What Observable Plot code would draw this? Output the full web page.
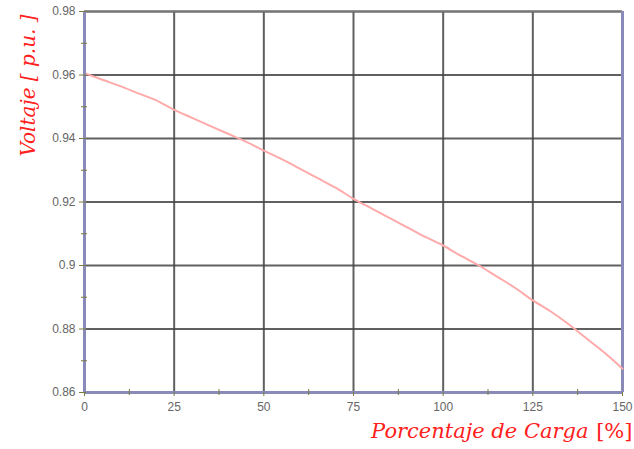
<!DOCTYPE html>
<html>
<head>
<meta charset="utf-8">
<script src="https://cdn.jsdelivr.net/npm/d3@7"></script>
<script src="https://cdn.jsdelivr.net/npm/@observablehq/plot@0.6"></script>
<style>
  html, body { margin: 0; padding: 0; background: #fff; }
  #chart svg { display: block; }
</style>
</head>
<body>
<div id="chart"></div>
<script>
const carga = [0, 5, 10, 15, 20, 25, 30, 35, 40, 45, 50, 55, 60, 65, 70, 75, 80, 85, 90, 95, 100, 105, 110, 115, 120, 125, 130, 135, 140, 145, 150];
const voltaje = [0.9606, 0.9585, 0.9565, 0.9542, 0.9520, 0.9490, 0.9465, 0.9440, 0.9415, 0.9390, 0.9362, 0.9335, 0.9305, 0.9275, 0.9245, 0.9210, 0.9180, 0.9150, 0.9120, 0.9090, 0.9063, 0.9030, 0.9000, 0.8965, 0.8930, 0.8890, 0.8855, 0.8815, 0.8770, 0.8725, 0.8675];
const xTicks = [0, 25, 50, 75, 100, 125, 150];
const xMinor = [12.5, 37.5, 62.5, 87.5, 112.5, 137.5];
const yTicks = [0.86, 0.88, 0.90, 0.92, 0.94, 0.96, 0.98];
const yMinor = [0.87, 0.89, 0.91, 0.93, 0.95, 0.97];
const yLabel = "Voltaje [ p.u. ]";
const xLabel = "Porcentaje de Carga";
const xLabelUnit = "[%]";

const data = carga.map((c, i) => ({carga: c, voltaje: voltaje[i]}));

const plot = Plot.plot({
  width: 634,
  height: 449,
  marginLeft: 84,
  marginRight: 12,
  marginTop: 11,
  marginBottom: 57,
  style: {fontFamily: "Arial, 'Liberation Sans', sans-serif", fontSize: "12px", color: "#666", background: "#fff"},
  x: {domain: [0, 150]},
  y: {domain: [0.86, 0.98]},
  marks: [
    Plot.gridX(xTicks, {stroke: "#444", strokeOpacity: 0.85, strokeWidth: 2}),
    Plot.gridY(yTicks, {stroke: "#444", strokeOpacity: 0.85, strokeWidth: 2}),
    Plot.ruleY([0.98], {stroke: "#777", strokeWidth: 2}),
    Plot.ruleX([150], {stroke: "#8a8ab8", strokeWidth: 3}),
    Plot.line(data, {x: "carga", y: "voltaje", stroke: "#ffaaaa", strokeWidth: 2, curve: "monotone-x"}),
    Plot.ruleX([0], {stroke: "#8a8ab8", strokeWidth: 3}),
    Plot.ruleY([0.86], {stroke: "#8a8ab8", strokeWidth: 3}),
    Plot.axisY(yTicks, {tickSize: 7, stroke: "#7a7a40", tickPadding: 4, fill: "#666", label: null,
      tickFormat: d => String(+d.toFixed(2)), dx: 2}),
    Plot.axisY(yMinor, {tickSize: 6, stroke: "#7a7a40", text: null, label: null, dx: 3}),
    Plot.axisX(xTicks, {tickSize: 4, stroke: "#7a7a40", tickPadding: 6, fill: "#666", label: null}),
    Plot.axisX(xMinor, {tickSize: 6, stroke: "#7a7a40", text: null, label: null, dy: -3}),
    Plot.text([yLabel], {text: d => d, frameAnchor: "top-left", rotate: -90, dx: -64, dy: 74,
      fill: "#ff2020", fontSize: 20, fontStyle: "italic", fontFamily: "'DejaVu Serif', serif", textAnchor: "middle"}),
    Plot.text([xLabel], {text: d => d, frameAnchor: "bottom-right", dx: -34, dy: 45,
      fill: "#ff2020", fontSize: 21, fontStyle: "italic", fontFamily: "'DejaVu Serif', serif", textAnchor: "end"}),
    Plot.text([xLabelUnit], {text: d => d, frameAnchor: "bottom-right", dx: 10, dy: 45,
      fill: "#ff2020", fontSize: 21, fontFamily: "'DejaVu Serif', serif", textAnchor: "end"})
  ]
});
document.getElementById("chart").appendChild(plot);
</script>
</body>
</html>
